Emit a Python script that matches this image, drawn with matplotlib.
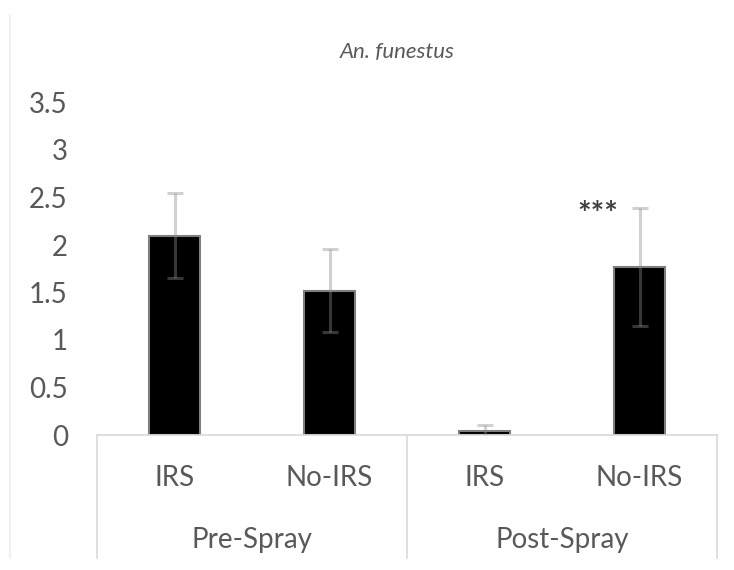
import matplotlib
matplotlib.use("Agg")
import matplotlib.pyplot as plt
from matplotlib.transforms import blended_transform_factory
from matplotlib.lines import Line2D

# Data
categories = ["IRS", "No-IRS", "IRS", "No-IRS"]
groups = ["Pre-Spray", "Post-Spray"]
values = [2.10, 1.52, 0.04, 1.77]
errors = [0.45, 0.44, 0.07, 0.62]
yticks = [0, 0.5, 1, 1.5, 2, 2.5, 3, 3.5]
ytick_labels = ["0", "0.5", "1", "1.5", "2", "2.5", "3", "3.5"]
title = "An. funestus"
signif = "***"

plt.rcParams['font.family'] = ['Lato', 'DejaVu Sans']
txt_color = "#595959"

fig = plt.figure(figsize=(7.34, 5.70), dpi=100)
ax = fig.add_axes([97/734, 1 - 435/570, 620/734, 332.5/570])

x = list(range(len(values)))
ax.bar(x, values, width=0.325, color="black", edgecolor="#7f7f7f", linewidth=1.5, zorder=2)
ax.errorbar(x, values, yerr=errors, fmt="none", ecolor="#8c8c8c", alpha=0.4,
            elinewidth=2.2, capsize=6, capthick=2.2, zorder=3)

ax.set_xlim(-0.5, len(values) - 0.5)
ax.set_ylim(0, 3.5)
ax.set_yticks(yticks)
ax.set_yticklabels(ytick_labels, fontsize=20, color=txt_color)
ax.tick_params(axis="y", length=0, pad=21)
ax.set_xticks([])
for s in ["top", "right", "left"]:
    ax.spines[s].set_visible(False)
ax.spines["bottom"].set_color("#d9d9d9")
ax.spines["bottom"].set_linewidth(1.2)

trans = blended_transform_factory(ax.transData, ax.transAxes)
for i, c in enumerate(categories):
    ax.text(i, -0.129, c, transform=trans, ha="center", va="center",
            fontsize=20, color=txt_color)
for g, name in enumerate(groups):
    ax.text(g * 2 + 0.5, -0.316, name, transform=trans, ha="center", va="center",
            fontsize=20, color=txt_color)
for b in [-0.5, 1.5, 3.5]:
    ax.add_line(Line2D([b, b], [0, -0.37], transform=trans, color="#d9d9d9",
                       linewidth=1.2, clip_on=False))

# significance marker
ax.text(3 - 0.27, values[3] + errors[3] - 0.08, signif, ha="center", va="center",
        fontsize=23, color="#404040", fontweight="bold")

fig.text(397/734, 1 - 52/570, title, ha="center", va="center", fontsize=16,
         style="italic", color=txt_color)

# chart area left border
fig.add_artist(Line2D([10/734, 10/734], [1 - 15/570, 1 - 558/570],
                      color="#eeeeee", linewidth=1.2))

fig.savefig("out.png", dpi=100)
